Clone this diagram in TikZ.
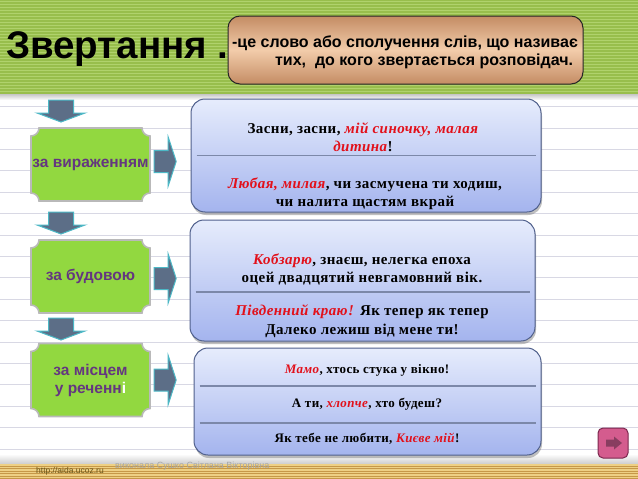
\documentclass[tikz,border=0pt]{standalone}
\usepackage{fontspec}
\setmainfont{Liberation Serif}
\newfontfamily\headfont{Liberation Sans}
\newfontfamily\exfont[LetterSpace=3]{Liberation Serif}
\usetikzlibrary{shadows,calc,positioning}
\definecolor{bandgreen}{RGB}{152,190,76}
\definecolor{bandstripe}{RGB}{176,210,108}
\definecolor{boxgreen}{RGB}{146,216,64}
\definecolor{labelpurple}{RGB}{100,54,128}
\definecolor{arrowslate}{RGB}{92,110,135}
\definecolor{arrowteal}{RGB}{76,184,198}
\definecolor{sheetline}{RGB}{216,216,228}
\definecolor{exred}{RGB}{226,16,26}
\definecolor{extop}{RGB}{230,236,252}
\definecolor{exbottom}{RGB}{164,180,238}
\definecolor{exborder}{RGB}{80,96,140}
\definecolor{defedge}{RGB}{196,140,100}
\definecolor{defmid}{RGB}{242,204,170}
\definecolor{navpink}{RGB}{212,92,142}
\definecolor{navdark}{RGB}{124,40,78}
\definecolor{woodlight}{RGB}{238,208,132}
\definecolor{wooddark}{RGB}{198,152,72}
\definecolor{urlbrown}{RGB}{104,84,24}

\tikzset{
  greenframe/.style={fill=boxgreen, draw=gray!55, line width=1.6pt},
  greenlabel/.style={minimum width=119pt, minimum height=73pt, inner sep=0pt,
    text=labelpurple, align=center,
    font=\headfont\bfseries\fontsize{15.5}{18}\selectfont},
  blkarrow/.style={fill=arrowslate, draw=arrowteal, line width=1pt},
  downblk/.pic={\path[blkarrow] (-12.5,11) -- (12.5,11) -- (12.5,-2) -- (24,-2)
    -- (0,-11) -- (-24,-2) -- (-12.5,-2) -- cycle;},
  rightblk/.pic={\path[blkarrow] (-11,11) -- (3,11) -- (3,24.5) -- (11,0)
    -- (3,-24.5) -- (3,-11) -- (-11,-11) -- cycle;},
  navtip/.pic={\fill[navdark!90] (-7,3.5) -- (1,3.5) -- (1,6.5) -- (9,0)
    -- (1,-6.5) -- (1,-3.5) -- (-7,-3.5) -- cycle;},
  exbox/.style={rounded corners=14pt, draw=exborder, line width=1pt,
    top color=extop, bottom color=exbottom,
    drop shadow={shadow xshift=1pt, shadow yshift=-3pt, opacity=0.5}},
  extext/.style={font=\exfont\bfseries\fontsize{15}{18.5}\selectfont, align=center, inner sep=0pt},
  exsmall/.style={font=\exfont\bfseries\fontsize{13}{15}\selectfont, align=center, inner sep=0pt},
  divider/.style={draw=exborder!75, line width=1.1pt},
  defbox/.style={rounded corners=12pt, draw=black!85, line width=1pt,
    top color=defedge, bottom color=defedge, middle color=defmid},
  deftext/.style={align=left, inner sep=0pt,
    font=\headfont\bfseries\fontsize{16}{18}\selectfont},
  navbtn/.style={rounded corners=5pt, fill=navpink, draw=navdark, line width=1pt,
    minimum width=30pt, minimum height=30pt},
}
\newcommand{\rd}[1]{\textcolor{exred}{\textit{#1}}}
\newcommand{\greenbox}[4]{%
  \begin{scope}[shift={(#2,#3)}]
    \draw[greenframe] (-51.5,36.5) -- (51.5,36.5) arc[start angle=180,end angle=270,radius=8]
      -- (59.5,-28.5) arc[start angle=90,end angle=180,radius=8]
      -- (-51.5,-36.5) arc[start angle=0,end angle=90,radius=8]
      -- (-59.5,28.5) arc[start angle=270,end angle=360,radius=8] -- cycle;
  \end{scope}
  \node[greenlabel] (#1) at (#2,#3) {#4};}

\begin{document}
\begin{tikzpicture}[x=1pt, y=1pt]
  \useasboundingbox (0,0) rectangle (638,-479);
  % лист у лінійку
  \fill[white] (0,0) rectangle (638,-479);
  \foreach \k in {0,...,16}
    \draw[sheetline, line width=0.8pt] (0,{-106.5-21.4*\k}) -- (638,{-106.5-21.4*\k});
  % зелена смуга вгорі
  \fill[bandgreen] (0,0) rectangle (638,-94);
  \foreach \y in {1.5,4.5,...,93}
    \draw[bandstripe, line width=1.1pt] (0,-\y) -- (638,-\y);
  \shade[top color=gray!45, bottom color=white] (0,-94) rectangle (638,-100);
  % нижня смуга
  \shade[top color=white, bottom color=gray!40] (0,-454) rectangle (638,-464);
  \fill[wooddark] (0,-464) rectangle (638,-479);
  \foreach \y in {465,467.5,...,479}
    \draw[woodlight, line width=1.2pt] (0,-\y) -- (638,-\y);

  % заголовок і означення
  \node[anchor=base west, inner sep=0pt, font=\headfont\bfseries\fontsize{38.5}{40}\selectfont]
    (title) at (6,-58) {Звертання .};
  \node[defbox, minimum width=355pt, minimum height=68pt] (def) at (405.5,-50) {};
  \node[deftext] (defline) at (405,-52.5)
    {-це слово або сполучення слів, що називає\\\hspace*{43pt}тих,\ \ до кого звертається розповідач.};

  % види звертань
  \greenbox{g1}{90.5}{-164.5}{за вираженням}
  \greenbox{g2}{90.5}{-276.5}{за будовою}
  \greenbox{g3}{90.5}{-380}{за місцем\\у реченн\textcolor{white}{і}}
  \pic (d1) at (61,-111) {downblk};
  \pic (d2) at (61,-223) {downblk};
  \pic (d3) at (61,-329) {downblk};
  \pic (r1) at ([xshift=15pt,yshift=3pt]g1.east) {rightblk};
  \pic (r2) at ([xshift=15pt,yshift=-2pt]g2.east) {rightblk};
  \pic (r3) at ([xshift=15pt]g3.east) {rightblk};

  % приклади
  \node[exbox, minimum width=350pt, minimum height=113pt] (ex1) at (366,-155.5) {};
  \node[extext] (ex1a) at (363,-137) {Засни, засни, \rd{мій синочку, малая}\\\rd{дитина}!};
  \node[extext] (ex1b) at (365,-193.5) {\rd{Любая, милая}, чи засмучена ти ходиш,\\чи налита щастям вкрай};
  \coordinate (cut1) at (0,-155.5);
  \draw[divider] ([xshift=6pt]ex1.west |- cut1) -- ([xshift=-6pt]ex1.east |- cut1);

  \node[exbox, minimum width=345pt, minimum height=121pt] (ex2) at (362.5,-280.5) {};
  \node[extext] (ex2a) at (362,-269.5) {\rd{Кобзарю}, знаєш, нелегка епоха\\оцей двадцятий невгамовний вік.};
  \node[extext] (ex2b) at (362,-321) {\rd{Південний краю!} Як тепер як тепер\\Далеко лежиш від мене ти!};
  \coordinate (cut2) at (0,-292);
  \draw[divider] ([xshift=6pt]ex2.west |- cut2) -- ([xshift=-6pt]ex2.east |- cut2);

  \node[exbox, minimum width=347pt, minimum height=107pt] (ex3) at (367.5,-401.5) {};
  \node[exsmall] (ex3a) at (367,-370.5) {\rd{Мамо}, хтось стука у вікно!};
  \node[exsmall] (ex3b) at (367,-404) {А ти, \rd{хлопче}, хто будеш?};
  \node[exsmall] (ex3c) at (367,-438.5) {Як тебе не любити, \rd{Києве мій}!};
  \coordinate (cut3) at (0,-386);
  \coordinate (cut4) at (0,-423);
  \draw[divider] ([xshift=6pt]ex3.west |- cut3) -- ([xshift=-6pt]ex3.east |- cut3);
  \draw[divider] ([xshift=6pt]ex3.west |- cut4) -- ([xshift=-6pt]ex3.east |- cut4);

  % підпис і кнопка
  \node[anchor=west, inner sep=0pt, text=urlbrown, font=\headfont\fontsize{8.5}{10}\selectfont]
    (url) at (36,-471) {http://aida.ucoz.ru};
  \node[anchor=west, inner sep=0pt, text=gray!70, font=\headfont\fontsize{9}{10}\selectfont]
    (author) at (115,-466) {виконала Сушко Світлана Вікторівна};
  \node[navbtn] (next) at (613,-443) {};
  \pic (nexttip) at (next.center) {navtip};
\end{tikzpicture}
\end{document}
